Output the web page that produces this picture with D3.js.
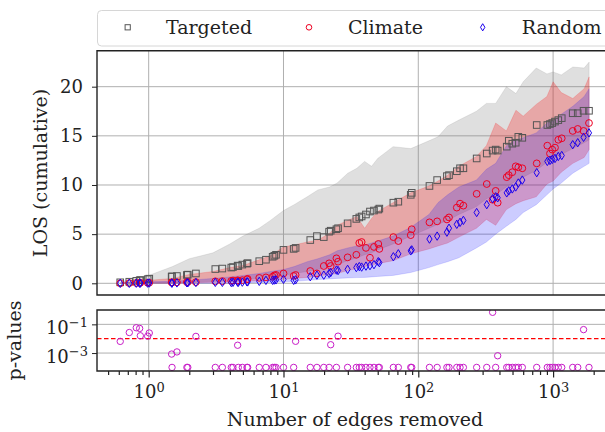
<!DOCTYPE html>
<html>
<head>
<meta charset="utf-8">
<script src="https://cdnjs.cloudflare.com/ajax/libs/d3/7.8.5/d3.min.js"></script>
<style>
  body { margin: 0; background: #fff; }
</style>
</head>
<body>
<div id="viz"></div>
<script>
// number of edges removed, shared by the three strategies
const edges = [0.615, 0.718, 0.809, 0.857, 0.867, 0.983, 1.01, 1.48, 1.49, 1.62,
  1.92, 1.95, 2.24, 3.12, 3.52, 4.10, 4.22, 4.57, 4.62, 4.95,
  5.36, 5.42, 6.61, 7.41, 8.31, 8.55, 8.80, 10.0, 11.9, 12.3,
  15.8, 17.7, 19.9, 21.8, 22.4, 24.7, 25.4, 29.9, 34.7, 36.5,
  38.0, 40.9, 43.8, 46.9, 50.5, 51.4, 65.3, 71.1, 87.9, 89.4,
  121, 138, 163, 169, 193, 204, 216, 271, 322, 356,
  375, 388, 453, 469, 498, 528, 552, 591, 756, 906,
  948, 986, 1033, 1093, 1159, 1398, 1523, 1683, 1846];

const targeted = [0.1, 0.16, 0.25, 0.3, 0.33, 0.42, 0.47, 0.68, 0.7, 0.74,
  0.85, 0.88, 1.0, 1.45, 1.5, 1.6, 1.65, 1.8, 1.75, 1.9,
  2.0, 2.05, 2.25, 2.4, 2.7, 2.8, 2.9, 3.4, 3.5, 3.6,
  4.4, 4.8, 4.7, 5.25, 5.35, 5.5, 5.6, 6.1, 6.55, 6.7,
  6.8, 7.0, 7.3, 7.4, 7.5, 7.6, 8.2, 8.3, 9.0, 9.2,
  9.9, 10.5, 10.9, 11.0, 11.4, 11.7, 11.7, 12.7, 13.2, 13.5,
  13.6, 13.5, 13.9, 14.5, 14.2, 14.3, 14.9, 14.8, 16.1, 16.1,
  16.2, 16.3, 16.45, 16.6, 16.8, 17.3, 17.3, 17.55, 17.55];

const climate = [0.0, 0.02, 0.03, 0.04, 0.05, 0.05, 0.06, 0.1, 0.08, 0.1,
  0.12, 0.13, 0.12, 0.2, 0.22, 0.25, 0.28, 0.3, 0.25, 0.32,
  0.4, 0.45, 0.55, 0.6, 0.67, 0.8, 0.85, 1.0, 0.75, 0.85,
  1.25, 1.0, 1.76, 2.03, 1.76, 2.54, 2.2, 2.64, 2.9, 4.1,
  4.2, 3.6, 2.6, 3.7, 4.0, 3.5, 4.7, 4.3, 4.9, 5.5,
  6.2, 6.3, 6.5, 6.7, 7.7, 8.1, 7.9, 9.1, 10.1, 8.5,
  9.4, 8.2, 10.8, 11.0, 11.3, 11.9, 11.8, 11.7, 12.2, 14.0,
  13.2, 13.6, 13.8, 14.6, 14.75, 15.5, 15.7, 15.5, 16.3];

const random = [0.0, 0.0, 0.01, 0.01, 0.02, 0.02, 0.03, 0.03, 0.02, 0.04,
  0.05, 0.05, 0.08, 0.1, 0.1, 0.08, 0.1, 0.12, 0.1, 0.12,
  0.15, 0.14, 0.2, 0.3, 0.3, 0.33, 0.35, 0.4, 0.3, 0.35,
  0.67, 0.83, 0.83, 1.0, 1.1, 1.35, 1.3, 1.42, 1.6, 1.7,
  1.65, 1.75, 1.8, 1.9, 2.2, 2.1, 2.7, 3.0, 3.3, 3.4,
  4.5, 4.8, 5.2, 5.6, 6.0, 6.2, 6.4, 7.2, 8.0, 8.6,
  8.8, 8.7, 9.2, 9.4, 9.6, 9.8, 10.2, 10.5, 11.25, 12.4,
  12.5, 12.6, 12.7, 12.9, 13.0, 14.1, 14.3, 14.85, 15.3];

const pValues = [0.0065, 0.027, 0.058, 0.052, 0.016, 0.015, 0.025, 0.00085, 1e-4, 0.0012,
  1e-4, 1e-4, 0.0145, 1e-4, 1e-4, 1e-4, 1e-4, 0.0035, 1e-4, 1e-4,
  1e-4, 1e-4, 1e-4, 1e-4, 1e-4, 1e-4, 1e-4, 1e-4, 1e-4, 0.0066,
  1e-4, 1e-4, 1e-4, 1e-4, 0.0038, 1e-4, 0.015, 1e-4, 1e-4, 1e-4,
  1e-4, 1e-4, 1e-4, 1e-4, 1e-4, 1e-4, 1e-4, 1e-4, 1e-4, 1e-4,
  1e-4, 1e-4, 1e-4, 1e-4, 1e-4, 1e-4, 1e-4, 1e-4, 1e-4, 0.69,
  1e-4, 0.00065, 1e-4, 1e-4, 1e-4, 1e-4, 1e-4, 1e-4, 1e-4, 1e-4,
  1e-4, 1e-4, 1e-4, 1e-4, 1e-4, 1e-4, 1e-4, 0.043, 1e-4];
const pThreshold = 0.01;

// spread bands (sampled on their own grid)
const bandEdges = [0.62, 1, 1.5, 2, 3, 4, 5, 6.6, 8, 10,
  12, 15, 18, 22, 25, 30, 35, 40, 45, 50,
  65, 88, 120, 140, 165, 200, 270, 320, 375, 450,
  530, 600, 750, 900, 1000, 1150, 1400, 1700, 1850];
const targetedHi = [0.15, 0.8, 1.7, 2.5, 3.1, 4.0, 4.8, 5.6, 6.4, 7.4,
  8.0, 8.8, 9.5, 9.8, 10.2, 11.2, 11.7, 12.4, 11.9, 12.7,
  13.9, 13.7, 14.5, 14.9, 16.0, 16.6, 17.5, 18.3, 18.3, 20.0,
  19.3, 20.5, 21.9, 21.3, 21.5, 21.2, 22.0, 21.9, 22.5];
const targetedLo = [0, 0, 0.05, 0.1, 0.2, 0.3, 0.4, 0.5, 0.6, 0.8,
  1.0, 1.2, 1.4, 1.7, 1.9, 2.3, 2.6, 2.9, 3.1, 3.4,
  4.0, 4.8, 5.6, 6.0, 6.4, 7.0, 7.8, 8.6, 9.0, 9.8,
  10.4, 10.8, 11.5, 12.3, 12.7, 13.1, 13.7, 14.3, 14.6];
const climateHi = [0.05, 0.3, 0.5, 0.9, 1.2, 1.6, 1.8, 2.4, 2.8, 3.7,
  3.9, 4.2, 4.4, 5.1, 5.9, 6.4, 6.8, 5.6, 6.6, 7.3,
  8.2, 9.2, 9.9, 10.4, 11.0, 11.9, 12.9, 14.0, 16.3, 15.5,
  17.6, 17.0, 18.2, 19.0, 20.5, 19.4, 18.8, 19.8, 21.0];
const climateLo = [0, 0, 0, 0.05, 0.1, 0.15, 0.2, 0.25, 0.3, 0.4,
  0.5, 0.6, 0.75, 0.9, 1.0, 1.3, 1.5, 1.7, 1.85, 2.0,
  2.3, 3.0, 3.5, 3.8, 4.1, 4.7, 5.6, 6.5, 5.9, 7.5,
  8.1, 8.4, 8.8, 10.1, 10.4, 11.3, 12.2, 12.8, 13.6];
const randomHi = [0.05, 0.15, 0.2, 0.3, 0.5, 0.65, 0.8, 1.0, 1.2, 1.4,
  1.7, 2.2, 2.5, 2.9, 3.3, 3.6, 3.8, 3.9, 4.1, 4.3,
  4.8, 5.7, 7.0, 8.2, 9.0, 9.8, 10.5, 11.6, 12.2, 14.0,
  14.6, 14.8, 15.3, 16.3, 16.5, 17.2, 18.0, 19.0, 19.8];
const randomLo = [0, 0, 0, 0, 0, 0, 0.05, 0.08, 0.1, 0.15,
  0.2, 0.3, 0.38, 0.45, 0.5, 0.55, 0.58, 0.6, 0.65, 0.7,
  0.8, 1.1, 1.6, 1.9, 2.2, 2.6, 3.6, 4.2, 5.0, 5.8,
  6.5, 7.2, 8.0, 9.0, 9.6, 10.2, 11.2, 11.9, 12.2];

const yTicks = [0, 5, 10, 15, 20];
const pTicks = [1e-1, 1e-3];
const xTicks = [1, 10, 100, 1000];

const width = 605;
const height = 432;
const serif = "'DejaVu Serif', 'Liberation Serif', 'Noto Serif', FreeSerif, Tinos, serif";

const svg = d3.select('#viz')
  .append('svg')
  .attr('width', width)
  .attr('height', height)
  .style('font-family', serif);

const x = d3.scaleLog().domain([0.4136, 2782]).range([97, 613]);
const y = d3.scaleLinear().domain([-1.19, 23.66]).range([295, 50.7]);
const yp = d3.scaleLog().domain([Math.pow(10, -4.25), 1]).range([371, 310]);

const gridColor = '#b0b0b0';

svg.append('clipPath').attr('id', 'clipMain')
  .append('rect').attr('x', 97).attr('y', 50.7).attr('width', 516).attr('height', 244.3);
svg.append('clipPath').attr('id', 'clipP')
  .append('rect').attr('x', 97).attr('y', 310).attr('width', 516).attr('height', 61);

function styleText(sel, size) {
  sel.style('font-family', serif)
    .attr('font-size', size)
    .attr('fill', '#222');
}

// ---- main panel ----
const main = svg.append('g');

// grid
main.selectAll('line.xgrid')
  .data(xTicks)
  .enter().append('line')
  .attr('x1', d => x(d)).attr('x2', d => x(d))
  .attr('y1', y.range()[1]).attr('y2', y.range()[0])
  .attr('stroke', gridColor).attr('stroke-width', 1);
main.selectAll('line.ygrid')
  .data(yTicks)
  .enter().append('line')
  .attr('x1', x.range()[0]).attr('x2', x.range()[1])
  .attr('y1', d => y(d)).attr('y2', d => y(d))
  .attr('stroke', gridColor).attr('stroke-width', 1);

// bands
const bands = [
  { lo: targetedLo, hi: targetedHi, color: 'gray', alpha: 0.25 },
  { lo: climateLo, hi: climateHi, color: 'red', alpha: 0.25 },
  { lo: randomLo, hi: randomHi, color: 'blue', alpha: 0.2 },
];
const area = d3.area()
  .x(d => x(d.e))
  .y0(d => y(d.lo))
  .y1(d => y(d.hi));

const plot = main.append('g').attr('clip-path', 'url(#clipMain)');
bands.forEach(b => {
  const rows = bandEdges.map((e, i) => ({ e, lo: b.lo[i], hi: b.hi[i] }));
  plot.append('path')
    .datum(rows)
    .attr('d', area)
    .attr('fill', b.color)
    .attr('fill-opacity', b.alpha)
    .attr('stroke', b.color)
    .attr('stroke-opacity', b.alpha * 0.8)
    .attr('stroke-width', 0.8);
});

// markers
plot.selectAll('rect.targeted')
  .data(edges)
  .enter().append('rect')
  .attr('x', (d, i) => x(d) - 3.3)
  .attr('y', (d, i) => y(targeted[i]) - 3.3)
  .attr('width', 6.6).attr('height', 6.6)
  .attr('fill', 'none')
  .attr('stroke', '#555')
  .attr('stroke-width', 1);

plot.selectAll('circle.climate')
  .data(edges)
  .enter().append('circle')
  .attr('cx', d => x(d))
  .attr('cy', (d, i) => y(climate[i]))
  .attr('r', 3.4)
  .attr('fill', 'none')
  .attr('stroke', '#ee0022')
  .attr('stroke-width', 1);

const diamond = (cx, cy) => `M${cx},${cy - 4.2}L${cx + 2.6},${cy}L${cx},${cy + 4.2}L${cx - 2.6},${cy}Z`;
plot.selectAll('path.random')
  .data(edges)
  .enter().append('path')
  .attr('d', (d, i) => diamond(x(d), y(random[i])))
  .attr('fill', 'none')
  .attr('stroke', '#1a00ee')
  .attr('stroke-width', 1);

// y axis
const yAxis = main.append('g')
  .attr('transform', `translate(${x.range()[0]},0)`)
  .call(d3.axisLeft(y).tickValues(yTicks).tickSize(5).tickPadding(9));
yAxis.attr('font-family', null);
yAxis.select('.domain').remove();
yAxis.selectAll('text').call(styleText, 18);
yAxis.selectAll('line').attr('stroke', '#222');

// spines
main.append('path')
  .attr('d', `M613,50.7H97V295H613`)
  .attr('fill', 'none')
  .attr('stroke', '#222')
  .attr('stroke-width', 1.4);

main.append('text')
  .attr('transform', `translate(47,173) rotate(-90)`)
  .attr('text-anchor', 'middle')
  .call(styleText, 19)
  .text('LOS (cumulative)');

// ---- p-value panel ----
const pg = svg.append('g');
pg.selectAll('line.xgrid')
  .data(xTicks)
  .enter().append('line')
  .attr('x1', d => x(d)).attr('x2', d => x(d))
  .attr('y1', 310).attr('y2', 371)
  .attr('stroke', gridColor).attr('stroke-width', 1);
pg.selectAll('line.ygrid')
  .data(pTicks)
  .enter().append('line')
  .attr('x1', 97).attr('x2', 613)
  .attr('y1', d => yp(d)).attr('y2', d => yp(d))
  .attr('stroke', gridColor).attr('stroke-width', 1);

const pPlot = pg.append('g').attr('clip-path', 'url(#clipP)');
pPlot.append('line')
  .attr('x1', 97).attr('x2', 613)
  .attr('y1', yp(pThreshold)).attr('y2', yp(pThreshold))
  .attr('stroke', 'red')
  .attr('stroke-width', 1.2)
  .attr('stroke-dasharray', '4.5,2.5');

pPlot.selectAll('circle.p')
  .data(edges)
  .enter().append('circle')
  .attr('cx', d => x(d))
  .attr('cy', (d, i) => yp(pValues[i]))
  .attr('r', 3.2)
  .attr('fill', 'none')
  .attr('stroke', '#c81ec8')
  .attr('stroke-width', 1);

function superscript(sel, expOf) {
  sel.each(function (d) {
    const t = d3.select(this);
    t.text('');
    t.append('tspan').text('10');
    t.append('tspan')
      .attr('font-size', 13)
      .attr('dy', '-0.5em')
      .text(expOf(d));
  });
}

const pAxis = pg.append('g')
  .attr('transform', 'translate(97,0)')
  .call(d3.axisLeft(yp).tickValues(pTicks).tickSize(5).tickPadding(4));
pAxis.attr('font-family', null);
pAxis.select('.domain').remove();
pAxis.selectAll('line').attr('stroke', '#222');
pAxis.selectAll('text')
  .call(styleText, 18)
  .attr('dy', '0.5em')
  .call(superscript, d => '\u2212' + Math.round(-Math.log10(d)));

// x axis with minor ticks
const minorTicks = [];
[0.1, 1, 10, 100, 1000].forEach(dec => {
  [2, 3, 4, 5, 6, 7, 8, 9].forEach(m => {
    const v = dec * m;
    if (v > x.domain()[0] && v < x.domain()[1]) minorTicks.push(v);
  });
});
const xMinor = pg.append('g')
  .attr('transform', 'translate(0,371)')
  .call(d3.axisBottom(x).tickValues(minorTicks).tickSize(4).tickFormat(''));
xMinor.select('.domain').remove();
xMinor.selectAll('line').attr('stroke', '#222').attr('stroke-width', 1.2);

const xAxis = pg.append('g')
  .attr('transform', 'translate(0,371)')
  .call(d3.axisBottom(x).tickValues(xTicks).tickSize(6.5).tickPadding(8));
xAxis.attr('font-family', null);
xAxis.select('.domain').remove();
xAxis.selectAll('line').attr('stroke', '#222').attr('stroke-width', 1.2);
xAxis.selectAll('text')
  .call(styleText, 18)
  .call(superscript, d => String(Math.round(Math.log10(d))));

pg.append('path')
  .attr('d', `M613,310H97V371H613`)
  .attr('fill', 'none')
  .attr('stroke', '#222')
  .attr('stroke-width', 1.4);

pg.append('text')
  .attr('transform', `translate(21,340.5) rotate(-90)`)
  .attr('text-anchor', 'middle')
  .call(styleText, 19)
  .text('p-values');

svg.append('text')
  .attr('x', 355)
  .attr('y', 426)
  .attr('text-anchor', 'middle')
  .call(styleText, 19)
  .text('Number of edges removed');

// ---- legend ----
const legend = svg.append('g');
legend.append('rect')
  .attr('x', 97.5).attr('y', 10.5)
  .attr('width', 600).attr('height', 35.5)
  .attr('rx', 4)
  .attr('fill', 'white')
  .attr('fill-opacity', 0.85)
  .attr('stroke', '#d6d6d6')
  .attr('stroke-width', 1);

const legendItems = [
  { label: 'Targeted', mx: 127.7, tx: 166 },
  { label: 'Climate', mx: 309, tx: 348 },
  { label: 'Random', mx: 482.7, tx: 521.7 },
];
const ly = 27.3;
legend.append('rect')
  .attr('x', legendItems[0].mx - 2.6).attr('y', ly - 2.6)
  .attr('width', 5.2).attr('height', 5.2)
  .attr('fill', 'none').attr('stroke', '#555').attr('stroke-width', 1);
legend.append('circle')
  .attr('cx', legendItems[1].mx).attr('cy', ly).attr('r', 2.8)
  .attr('fill', 'none').attr('stroke', '#ee0022').attr('stroke-width', 1);
legend.append('path')
  .attr('d', `M${legendItems[2].mx},${ly - 3.6}L${legendItems[2].mx + 2.2},${ly}L${legendItems[2].mx},${ly + 3.6}L${legendItems[2].mx - 2.2},${ly}Z`)
  .attr('fill', 'none').attr('stroke', '#1a00ee').attr('stroke-width', 1);

legend.selectAll('text')
  .data(legendItems)
  .enter().append('text')
  .attr('x', d => d.tx)
  .attr('y', 33.5)
  .call(styleText, 19)
  .text(d => d.label);
</script>
</body>
</html>
